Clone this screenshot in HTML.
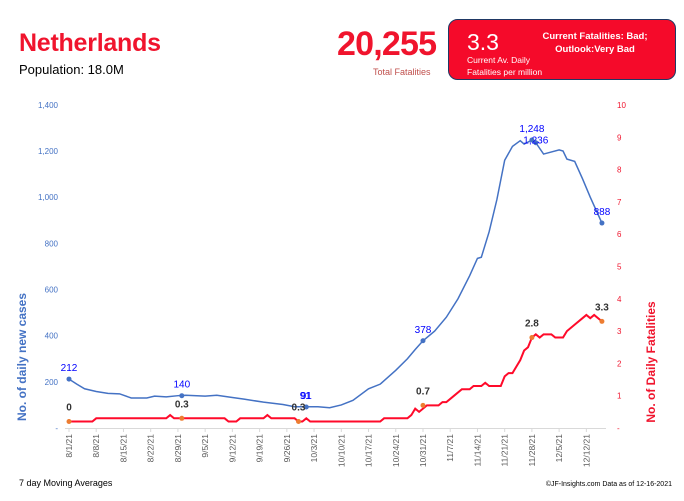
<!DOCTYPE html>
<html><head><meta charset="utf-8"><style>
body{margin:0;background:#fff;width:684px;height:496px;overflow:hidden;font-family:"Liberation Sans",sans-serif}
</style></head><body>
<svg id="s" width="684" height="496" xmlns="http://www.w3.org/2000/svg" font-family="Liberation Sans, sans-serif">
<text x="19" y="51" font-size="25" font-weight="bold" fill="#f0142d" textLength="142">Netherlands</text>
<text x="19" y="74" font-size="13" fill="#000">Population: 18.0M</text>
<text x="337" y="55" font-size="34" font-weight="bold" fill="#f0142d" textLength="100">20,255</text>
<text x="373" y="75" font-size="9" fill="#c0504d">Total Fatalities</text>
<rect x="448.500" y="19.500" width="227" height="60" rx="9" fill="#f50a2a" stroke="#1f3864" stroke-width="1"/>
<text x="467" y="50" font-size="23" fill="#fff">3.3</text>
<text x="467" y="63" font-size="8.5" fill="#fff">Current Av. Daily</text>
<text x="467" y="75" font-size="8.5" fill="#fff">Fatalities per million</text>
<text x="595" y="39" font-size="9.5" font-weight="bold" fill="#fff" text-anchor="middle">Current Fatalities: Bad;</text>
<text x="595" y="52" font-size="9.5" font-weight="bold" fill="#fff" text-anchor="middle">Outlook:Very Bad</text>
<g id="g"></g>
<text transform="translate(26,357) rotate(-90)" font-size="12" font-weight="bold" fill="#4472c4" text-anchor="middle">No. of daily new  cases</text>
<text transform="translate(655,362) rotate(-90)" font-size="12" font-weight="bold" fill="#f0142d" text-anchor="middle">No. of Daily Fatalities</text>
<text x="19" y="486" font-size="9" fill="#000">7 day Moving Averages</text>
<text x="672" y="486" font-size="7" fill="#000" text-anchor="end">©JF-Insights.com  Data as of 12-16-2021</text>
</svg>
<script>
var g=document.getElementById('g'),h='';
function X(d){return 69+d*3.89}
function YB(v){return 428-v*0.2308}
function YR(v){return 428-v*32.3}
h+='<line x1="65" y1="428.5" x2="606" y2="428.5" stroke="#d9d9d9"/>';
var labs=['8/1/21','8/8/21','8/15/21','8/22/21','8/29/21','9/5/21','9/12/21','9/19/21','9/26/21','10/3/21','10/10/21','10/17/21','10/24/21','10/31/21','11/7/21','11/14/21','11/21/21','11/28/21','12/5/21','12/12/21'];
labs.forEach(function(l,i){var x=X(i*7);h+='<line x1="'+x+'" y1="428" x2="'+x+'" y2="432" stroke="#d9d9d9"/>';
h+='<text transform="translate('+(x+3)+',434) rotate(-90)" font-size="8.5" fill="#595959" text-anchor="end">'+l+'</text>';});
for(var v=0;v<=1400;v+=200){h+='<text x="58" y="'+(YB(v)+3)+'" font-size="8" fill="#4472c4" text-anchor="end">'+(v==0?'-':v.toLocaleString('en-US'))+'</text>';}
for(var r=0;r<=10;r++){h+='<text x="617" y="'+(YR(r)+3)+'" font-size="8" fill="#f0142d">'+(r==0?'-':r)+'</text>';}
var B=[[0,212],[2,190],[4,170],[7,158],[10,150],[13,148],[16,130],[20,130],[22,138],[25,135],[28,140],[30,142],[35,138],[38,142],[42,132],[45,125],[50,112],[55,102],[58,92],[64,92],[67,88],[70,100],[73,120],[77,170],[80,190],[84,250],[87,300],[89,340],[91,378],[94,420],[97,480],[100,560],[103,660],[105,735],[106,740],[108,850],[110,990],[112,1160],[114,1220],[116,1245],[117,1230],[119,1248],[120,1236],[122,1187],[126,1205],[127,1200],[128,1165],[130,1155],[132,1080],[134,1000],[137,888]];
var R=[[0,0.2],[6,0.2],[7,0.3],[25,0.3],[26,0.4],[27,0.3],[40,0.3],[41,0.2],[43,0.2],[44,0.3],[50,0.3],[51,0.4],[52,0.3],[58,0.3],[59,0.2],[60,0.2],[61,0.3],[62,0.2],[80,0.2],[81,0.3],[87,0.3],[88,0.4],[89,0.6],[90,0.5],[91,0.6],[92,0.7],[95,0.7],[96,0.8],[97,0.8],[99,1.0],[101,1.2],[103,1.2],[104,1.3],[106,1.3],[107,1.4],[108,1.3],[111,1.3],[112,1.6],[113,1.7],[114,1.7],[115,1.9],[116,2.1],[117,2.4],[118,2.5],[119,2.8],[120,2.9],[121,2.8],[122,2.9],[124,2.9],[125,2.8],[127,2.8],[128,3.0],[130,3.2],[132,3.4],[133,3.5],[134,3.4],[135,3.5],[137,3.3]];
h+='<polyline fill="none" stroke="#4472c4" stroke-width="1.5" points="'+B.map(function(p){return X(p[0])+','+YB(p[1])}).join(' ')+'"/>';
h+='<polyline fill="none" stroke="#ff0a2a" stroke-width="2" points="'+R.map(function(p){return X(p[0])+','+YR(p[1])}).join(' ')+'"/>';
[[0,212,'212',0],[29,140,'140',0],[61,91,'91',0],[91,378,'378',0],[119,1248,'1,248',0],[120,1236,'1,236',9],[137,888,'888',0]].forEach(function(p){
h+='<circle cx="'+X(p[0])+'" cy="'+YB(p[1])+'" r="2.5" fill="#4472c4"/>';
h+='<text x="'+X(p[0])+'" y="'+(YB(p[1])-8+p[3])+'" font-size="10" fill="#0000ff" text-anchor="middle">'+p[2]+'</text>';});
h+='<text x="'+(X(61)-1)+'" y="'+(YB(91)-8)+'" font-size="10" fill="#0000ff" text-anchor="middle">91</text>';
[[0,0.2,'0'],[29,0.3,'0.3'],[59,0.2,'0.3'],[91,0.7,'0.7'],[119,2.8,'2.8'],[137,3.3,'3.3']].forEach(function(p){
h+='<circle cx="'+X(p[0])+'" cy="'+YR(p[1])+'" r="2.5" fill="#ed7d31"/>';
h+='<text x="'+X(p[0])+'" y="'+(YR(p[1])-11)+'" font-size="10" font-weight="bold" fill="#333" text-anchor="middle">'+p[2]+'</text>';});
g.innerHTML=h;
</script>
</body></html>
